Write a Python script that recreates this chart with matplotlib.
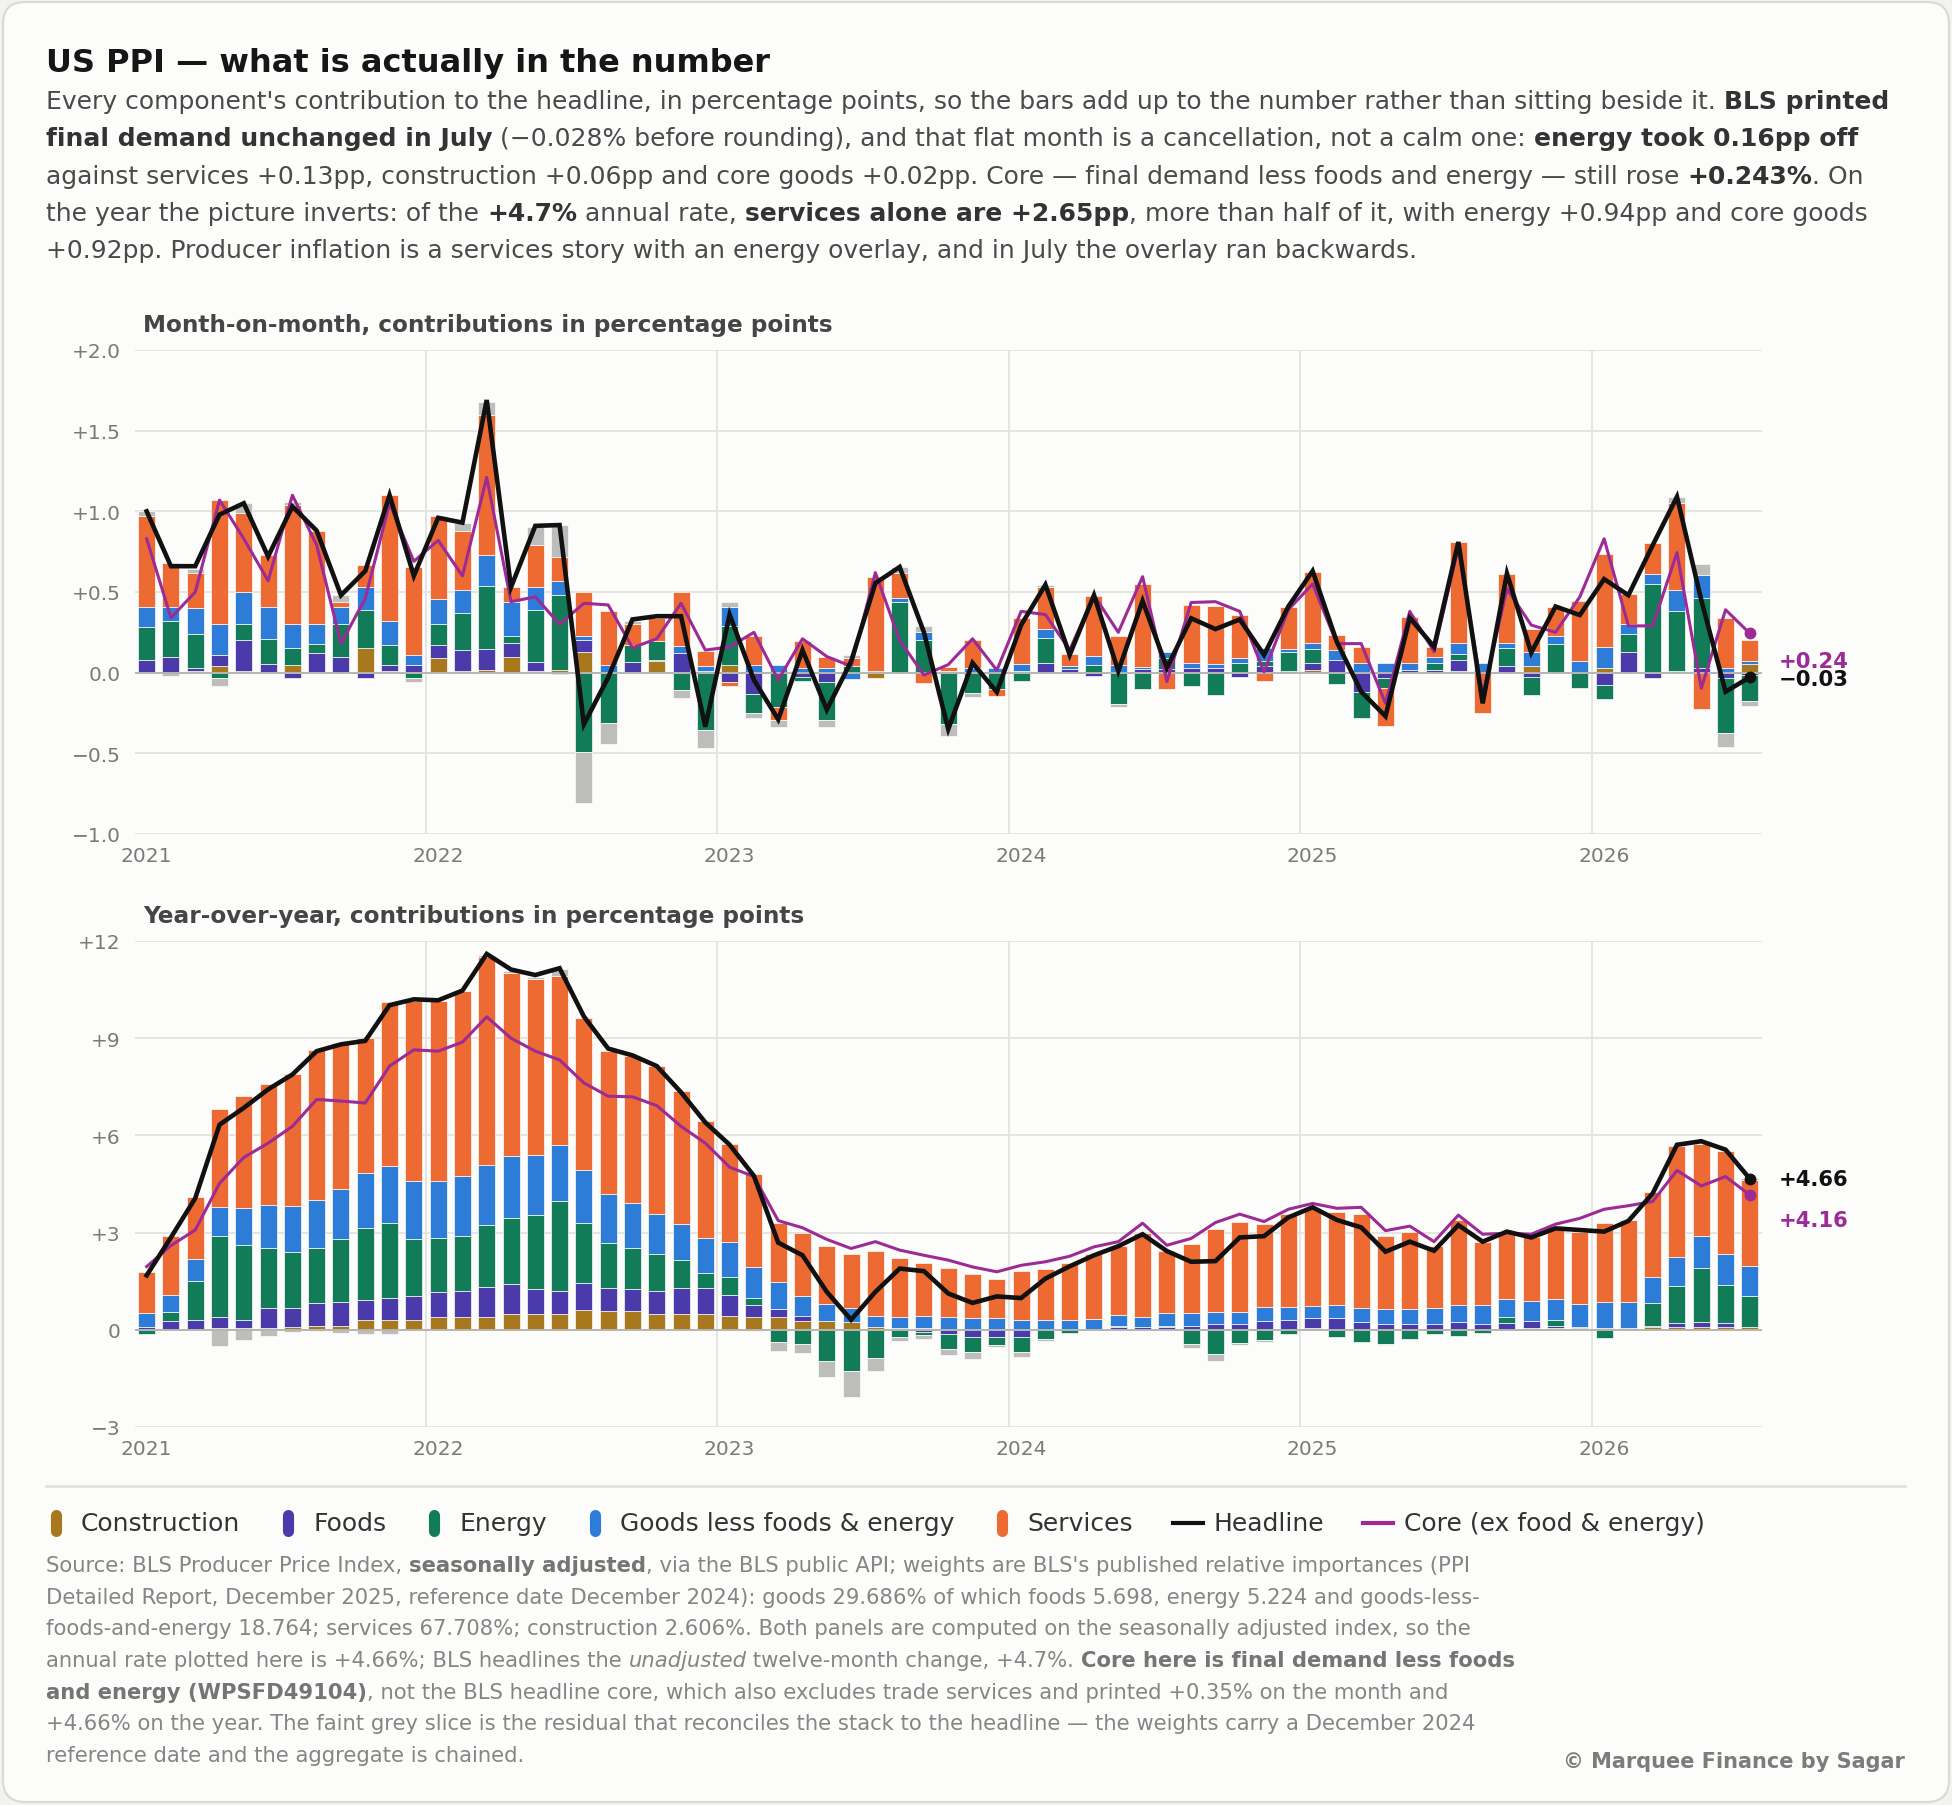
import numpy as np
import pandas as pd
import matplotlib
matplotlib.use("Agg")
import matplotlib.pyplot as plt
from matplotlib.lines import Line2D
from matplotlib.patches import FancyBboxPatch

# ---- data: Jan 2021 .. Jul 2026, contributions in percentage points ----
months = pd.period_range("2021-01", "2026-07", freq="M")

# month-on-month
mom_construction = [0.005, 0.0, 0.01, 0.04, 0.01, 0.005, 0.045, 0.005, 0.0, 0.155, 0.01, 0.005,
                    0.09, 0.01, 0.015, 0.095, 0.01, 0.015, 0.13, 0.0, 0.005, 0.07, 0.005, 0.0,
                    0.047, 0.0, 0.0, 0.0, 0.0, 0.0, -0.035, 0.0, 0.0, 0.0, 0.0, 0.0,
                    0.01, 0.0, 0.0, 0.0, 0.0, 0.0, 0.0, 0.0, 0.0, 0.0, 0.0, 0.0,
                    0.017, 0.0, 0.0, 0.0, 0.0, 0.0, 0.012, 0.0, 0.0, 0.04, 0.0, 0.0,
                    0.027, 0.0, 0.0, 0.0, 0.0, 0.0, 0.055]
mom_foods = [0.075, 0.10, 0.02, 0.07, 0.19, 0.05, -0.035, 0.115, 0.10, -0.03, 0.04, 0.04,
             0.08, 0.13, 0.13, 0.09, 0.055, -0.01, 0.07, 0.005, 0.06, 0.01, 0.115, 0.01,
             -0.055, -0.13, 0.0, -0.025, -0.055, 0.0, 0.0, 0.0, 0.0, 0.0, 0.0, 0.0,
             0.0, 0.058, 0.02, -0.02, 0.0, 0.02, 0.02, 0.027, 0.027, -0.025, 0.04, 0.012,
             0.04, 0.08, -0.118, -0.035, 0.017, 0.017, 0.065, 0.0, 0.04, -0.025, 0.0, 0.0,
             -0.076, 0.13, -0.035, 0.012, 0.027, -0.035, -0.015]
mom_energy = [0.20, 0.22, 0.21, -0.03, 0.10, 0.155, 0.105, 0.06, 0.20, 0.235, 0.12, -0.03,
              0.13, 0.23, 0.395, 0.045, 0.325, 0.465, -0.49, -0.31, 0.105, 0.115, -0.11, -0.355,
              0.24, -0.12, -0.215, -0.025, -0.24, 0.04, 0.0, 0.44, 0.20, -0.32, -0.125, -0.10,
              -0.05, 0.155, 0.0, 0.045, -0.195, -0.10, 0.07, -0.083, -0.14, 0.058, 0.03, 0.118,
              0.087, -0.07, -0.16, -0.06, 0.0, 0.04, 0.04, 0.0, 0.11, -0.115, 0.18, -0.097,
              -0.09, 0.11, 0.55, 0.37, 0.434, -0.34, -0.16]
mom_core_goods = [0.13, 0.09, 0.16, 0.19, 0.20, 0.20, 0.15, 0.12, 0.11, 0.14, 0.15, 0.065,
                  0.155, 0.14, 0.19, 0.21, 0.14, 0.09, 0.03, 0.045, -0.005, 0.0, 0.045, 0.03,
                  0.12, 0.05, 0.05, 0.03, 0.03, -0.04, 0.01, 0.025, 0.05, 0.01, 0.03, 0.03,
                  0.045, 0.058, 0.02, 0.06, 0.045, 0.017, 0.04, 0.035, 0.027, 0.03, 0.08, 0.015,
                  0.037, 0.06, 0.058, 0.058, 0.04, 0.04, 0.066, 0.06, 0.035, 0.09, 0.045, 0.072,
                  0.13, 0.06, 0.062, 0.13, 0.145, 0.03, 0.02]
mom_services = [0.56, 0.27, 0.22, 0.77, 0.49, 0.32, 0.74, 0.58, 0.03, 0.14, 0.78, 0.545,
                0.515, 0.37, 0.87, 0.09, 0.26, 0.15, 0.27, 0.33, 0.13, 0.145, 0.335, 0.095,
                -0.027, 0.18, -0.08, 0.165, 0.07, 0.05, 0.58, 0.15, -0.066, 0.025, 0.175, -0.045,
                0.285, 0.26, 0.075, 0.37, 0.185, 0.51, -0.10, 0.358, 0.36, 0.27, -0.05, 0.265,
                0.44, 0.095, 0.10, -0.235, 0.29, 0.06, 0.625, -0.25, 0.425, 0.14, 0.18, 0.375,
                0.58, 0.185, 0.19, 0.54, -0.227, 0.31, 0.13]
mom_residual = [0.03, -0.02, 0.02, -0.05, 0.06, 0.0, 0.02, 0.0, 0.04, 0.0, 0.0, -0.025,
                0.0, 0.05, 0.08, 0.0, 0.11, 0.195, -0.32, -0.13, 0.02, 0.0, -0.045, -0.115,
                0.03, -0.03, -0.04, 0.0, -0.04, 0.02, 0.0, 0.04, 0.04, -0.07, -0.025, 0.0,
                0.0, 0.01, 0.0, 0.0, -0.02, 0.0, 0.0, 0.0, 0.0, 0.0, 0.0, 0.0,
                0.0, 0.0, 0.0, 0.0, 0.0, 0.0, 0.0, 0.0, 0.0, 0.0, 0.0, 0.0,
                0.0, 0.0, 0.0, 0.037, 0.068, -0.087, -0.03]
mom_headline = [1.00, 0.66, 0.66, 0.98, 1.05, 0.72, 1.03, 0.88, 0.48, 0.63, 1.10, 0.60,
                0.96, 0.93, 1.69, 0.53, 0.91, 0.915, -0.32, -0.03, 0.33, 0.35, 0.35, -0.335,
                0.36, -0.045, -0.29, 0.14, -0.23, 0.07, 0.555, 0.655, 0.25, -0.35, 0.06, -0.12,
                0.295, 0.545, 0.11, 0.48, 0.01, 0.445, 0.03, 0.337, 0.27, 0.33, 0.11, 0.41,
                0.63, 0.19, -0.118, -0.27, 0.34, 0.16, 0.81, -0.19, 0.615, 0.124, 0.41, 0.357,
                0.58, 0.48, 0.79, 1.09, 0.45, -0.118, -0.028]
mom_core = [0.83, 0.34, 0.50, 1.07, 0.83, 0.57, 1.10, 0.79, 0.18, 0.46, 1.05, 0.69,
            0.82, 0.60, 1.21, 0.44, 0.47, 0.30, 0.43, 0.42, 0.155, 0.21, 0.43, 0.14,
            0.16, 0.25, -0.045, 0.21, 0.10, 0.04, 0.62, 0.20, -0.015, 0.05, 0.21, 0.015,
            0.38, 0.36, 0.14, 0.48, 0.25, 0.595, -0.055, 0.435, 0.44, 0.38, 0.005, 0.39,
            0.55, 0.18, 0.18, -0.19, 0.38, 0.13, 0.78, -0.14, 0.52, 0.295, 0.25, 0.47,
            0.83, 0.29, 0.29, 0.744, -0.097, 0.39, 0.243]

# year-over-year
yoy_construction = [0.0, 0.0, 0.01, 0.06, 0.05, 0.06, 0.10, 0.13, 0.13, 0.29, 0.29, 0.31,
                    0.39, 0.41, 0.41, 0.50, 0.48, 0.50, 0.60, 0.58, 0.57, 0.48, 0.48, 0.48,
                    0.42, 0.39, 0.39, 0.27, 0.27, 0.24, 0.08, 0.06, 0.06, 0.03, 0.0, 0.0,
                    0.0, 0.0, 0.0, 0.0, 0.0, 0.0, 0.0, 0.0, 0.0, 0.0, 0.0, 0.0,
                    0.06, 0.0, 0.0, 0.0, 0.0, 0.0, 0.0, 0.0, 0.0, 0.06, 0.05, 0.05,
                    0.05, 0.05, 0.08, 0.08, 0.08, 0.08, 0.10]
yoy_foods = [0.08, 0.27, 0.30, 0.35, 0.26, 0.61, 0.58, 0.71, 0.72, 0.62, 0.69, 0.73,
             0.77, 0.80, 0.92, 0.91, 0.79, 0.70, 0.85, 0.71, 0.69, 0.72, 0.82, 0.80,
             0.64, 0.38, 0.24, 0.15, 0.0, 0.0, 0.0, 0.0, -0.07, -0.12, -0.23, -0.23,
             -0.21, 0.0, 0.0, 0.0, 0.08, 0.08, 0.08, 0.13, 0.17, 0.17, 0.27, 0.29,
             0.30, 0.36, 0.24, 0.19, 0.19, 0.17, 0.24, 0.19, 0.21, 0.21, 0.07, 0.03,
             0.0, 0.0, 0.05, 0.12, 0.15, 0.12, -0.02]
yoy_energy = [-0.14, 0.28, 1.20, 2.50, 2.31, 1.86, 1.71, 1.68, 1.94, 2.24, 2.33, 1.76,
              1.66, 1.70, 1.90, 2.03, 2.27, 2.79, 1.86, 1.39, 1.27, 1.13, 0.84, 0.46,
              0.57, 0.21, -0.38, -0.45, -0.95, -1.26, -0.88, -0.23, -0.10, -0.46, -0.46, -0.23,
              -0.49, -0.28, -0.09, 0.03, 0.05, 0.0, 0.05, -0.45, -0.76, -0.41, -0.33, -0.12,
              0.0, -0.21, -0.38, -0.43, -0.28, -0.14, -0.18, -0.09, 0.19, 0.0, 0.18, 0.0,
              -0.25, 0.0, 0.69, 1.15, 1.68, 1.17, 0.94]
yoy_core_goods = [0.43, 0.52, 0.66, 0.89, 1.15, 1.32, 1.43, 1.50, 1.56, 1.70, 1.76, 1.78,
                  1.78, 1.83, 1.86, 1.91, 1.85, 1.72, 1.61, 1.50, 1.39, 1.25, 1.14, 1.08,
                  1.07, 0.96, 0.83, 0.62, 0.54, 0.43, 0.36, 0.35, 0.38, 0.36, 0.36, 0.36,
                  0.29, 0.31, 0.29, 0.31, 0.33, 0.33, 0.40, 0.40, 0.37, 0.38, 0.43, 0.41,
                  0.39, 0.41, 0.43, 0.45, 0.45, 0.50, 0.52, 0.57, 0.56, 0.62, 0.64, 0.72,
                  0.81, 0.82, 0.81, 0.90, 0.98, 0.98, 0.92]
yoy_services = [1.27, 1.83, 1.92, 3.02, 3.46, 3.73, 4.09, 4.61, 4.49, 4.16, 5.06, 5.56,
                5.55, 5.71, 6.43, 5.65, 5.43, 5.20, 4.69, 4.44, 4.53, 4.57, 4.08, 3.61,
                3.04, 2.86, 1.85, 1.95, 1.78, 1.66, 1.99, 1.82, 1.63, 1.52, 1.35, 1.20,
                1.52, 1.58, 1.78, 2.01, 2.12, 2.58, 1.89, 2.13, 2.56, 2.79, 2.56, 2.87,
                3.00, 2.87, 2.90, 2.25, 2.37, 1.91, 2.63, 1.96, 2.00, 1.98, 2.25, 2.21,
                2.43, 2.51, 2.63, 3.43, 2.86, 3.17, 2.65]
yoy_residual = [0.0, 0.0, 0.0, -0.49, -0.33, -0.20, -0.07, -0.03, -0.10, -0.12, -0.12, 0.05,
                0.0, 0.0, 0.06, 0.08, 0.06, 0.22, 0.05, 0.0, 0.0, 0.0, 0.0, 0.0,
                0.0, -0.05, -0.26, -0.27, -0.50, -0.81, -0.40, -0.12, -0.10, -0.21, -0.21, -0.08,
                -0.15, -0.07, 0.0, 0.0, 0.0, 0.0, 0.0, -0.10, -0.21, -0.07, -0.05, 0.0,
                0.0, 0.0, 0.0, -0.05, 0.0, 0.0, 0.0, 0.0, 0.0, 0.0, 0.0, 0.0,
                0.0, 0.0, 0.0, 0.0, 0.0, 0.0, 0.07]
yoy_headline = [1.68, 2.85, 4.06, 6.33, 6.85, 7.42, 7.88, 8.60, 8.81, 8.92, 10.02, 10.20,
                10.17, 10.47, 11.60, 11.12, 10.95, 11.16, 9.67, 8.68, 8.47, 8.14, 7.33, 6.40,
                5.71, 4.75, 2.69, 2.30, 1.17, 0.31, 1.17, 1.89, 1.81, 1.12, 0.83, 1.03,
                0.98, 1.58, 1.96, 2.30, 2.58, 2.95, 2.43, 2.10, 2.12, 2.85, 2.89, 3.47,
                3.78, 3.39, 3.16, 2.41, 2.72, 2.44, 3.23, 2.72, 3.03, 2.85, 3.13, 3.08,
                3.03, 3.36, 4.21, 5.71, 5.82, 5.56, 4.66]
yoy_core = [1.95, 2.60, 3.08, 4.52, 5.32, 5.76, 6.28, 7.11, 7.06, 7.00, 8.14, 8.64,
            8.60, 8.88, 9.66, 9.00, 8.60, 8.33, 7.62, 7.21, 7.19, 6.92, 6.28, 5.76,
            5.02, 4.73, 3.37, 3.15, 2.79, 2.51, 2.72, 2.46, 2.30, 2.15, 1.94, 1.79,
            1.99, 2.10, 2.27, 2.56, 2.72, 3.29, 2.61, 2.82, 3.31, 3.57, 3.34, 3.72,
            3.90, 3.75, 3.78, 3.06, 3.20, 2.72, 3.54, 2.95, 2.98, 2.95, 3.26, 3.44,
            3.72, 3.83, 3.96, 4.92, 4.44, 4.73, 4.16]

component_names = ["Construction", "Foods", "Energy", "Goods less foods & energy", "Services"]
component_colors = ["#a8781e", "#4b3aa9", "#127b58", "#2d7dd8", "#ee6a33"]
residual_color = "#bdbdbb"
headline_color = "#111111"
core_color = "#9c2b96"

# ---- layout (pixels on a 1952 x 1806 canvas) ----
W, H, DPI = 1952, 1806, 100
BG = "#fcfcfa"
GRID = "#e2e2de"

fig = plt.figure(figsize=(W / DPI, H / DPI), dpi=DPI, facecolor="#f2f2f0")
renderer = fig.canvas.get_renderer()

card = FancyBboxPatch((0.03, 0.03), W / DPI - 0.06, H / DPI - 0.06,
                      boxstyle="round,pad=0,rounding_size=0.22",
                      transform=fig.dpi_scale_trans, facecolor=BG,
                      edgecolor="#d9d9d6", linewidth=1.5, zorder=-10)
fig.add_artist(card)


def inch(px, py):
    return px / DPI, (H - py) / DPI


def text_width(s, **kw):
    t = fig.text(0, 0, "|" + s + "|", **kw)
    w = t.get_window_extent(renderer=renderer).width
    t.remove()
    t = fig.text(0, 0, "||", **kw)
    w -= t.get_window_extent(renderer=renderer).width
    t.remove()
    return w


def rich_line(px, py, runs, size, color, bold_color):
    x = px
    for s, kind in runs:
        kw = dict(fontsize=size,
                  fontweight="bold" if "b" in kind else "normal",
                  fontstyle="italic" if "i" in kind else "normal",
                  color=bold_color if "b" in kind else color)
        fig.text(*inch(x, py), s, transform=fig.dpi_scale_trans,
                 ha="left", va="baseline", **kw)
        x += text_width(s, **kw)
    return x


# ---- title block ----
fig.text(*inch(46, 72), "US PPI — what is actually in the number",
         transform=fig.dpi_scale_trans, fontsize=23.0, fontweight="bold",
         color="#161616", va="baseline")

subtitle = [
    [("Every component's contribution to the headline, in percentage points, so the bars add up to the number rather than sitting beside it. ", ""),
     ("BLS printed", "b")],
    [("final demand unchanged in July", "b"),
     (" (−0.028% before rounding), and that flat month is a cancellation, not a calm one: ", ""),
     ("energy took 0.16pp off", "b")],
    [("against services +0.13pp, construction +0.06pp and core goods +0.02pp. Core — final demand less foods and energy — still rose ", ""),
     ("+0.243%", "b"), (". On", "")],
    [("the year the picture inverts: of the ", ""), ("+4.7%", "b"), (" annual rate, ", ""),
     ("services alone are +2.65pp", "b"),
     (", more than half of it, with energy +0.94pp and core goods", "")],
    [("+0.92pp. Producer inflation is a services story with an energy overlay, and in July the overlay ran backwards.", "")],
]
for i, runs in enumerate(subtitle):
    rich_line(46, 109 + i * 37.3, runs, 18.0, "#4a4a4a", "#333333")

# ---- panels ----
x = np.array([p.year + (p.month - 0.5) / 12 for p in months])
bar_w = 0.7 / 12
ax_left, ax_right = 134.5, 1762
ax1 = fig.add_axes([ax_left / W, 1 - 835 / H, (ax_right - ax_left) / W, 484 / H])
ax2 = fig.add_axes([ax_left / W, 1 - 1428 / H, (ax_right - ax_left) / W, 486 / H])


def draw_stack(ax, parts, colors):
    pos = np.zeros(len(x))
    neg = np.zeros(len(x))
    for vals, col in zip(parts, colors):
        v = np.asarray(vals, dtype=float)
        up = v > 0
        dn = v < 0
        ax.bar(x[up], v[up], bar_w, bottom=pos[up], color=col,
               edgecolor=BG, linewidth=0.5, zorder=2)
        ax.bar(x[dn], v[dn], bar_w, bottom=neg[dn], color=col,
               edgecolor=BG, linewidth=0.5, zorder=2)
        pos[up] += v[up]
        neg[dn] += v[dn]


def style_axes(ax, ylim, yticks, ylabels):
    ax.set_facecolor("none")
    ax.set_xlim(2021, 2026 + 7 / 12)
    ax.set_ylim(*ylim)
    for sp in ax.spines.values():
        sp.set_visible(False)
    ax.set_yticks(yticks)
    ax.set_yticklabels(ylabels)
    years = list(range(2021, 2027))
    ax.set_xticks([y + 0.5 / 12 for y in years])
    ax.set_xticklabels([str(y) for y in years])
    ax.set_xticks(years, minor=True)
    ax.grid(axis="y", which="major", color=GRID, linewidth=1.3)
    ax.grid(axis="x", which="minor", color=GRID, linewidth=1.3)
    ax.grid(axis="x", which="major", visible=False)
    ax.tick_params(axis="both", which="both", length=0, labelsize=14.5,
                   labelcolor="#7a7a7a")
    ax.tick_params(axis="y", pad=10)
    ax.tick_params(axis="x", pad=9)
    ax.set_axisbelow(True)
    ax.axhline(0, color="#b5b5b2", linewidth=1.4, zorder=2.5)


def draw_panel(ax, parts, residual, headline, core):
    draw_stack(ax, list(parts) + [residual], component_colors + [residual_color])
    ax.plot(x, headline, color=headline_color, linewidth=3.3, zorder=4,
            solid_joinstyle="miter")
    ax.plot(x, core, color=core_color, linewidth=2.2, zorder=3.5)
    ax.plot(x[-1], headline[-1], "o", color=headline_color, markersize=7.5, zorder=5)
    ax.plot(x[-1], core[-1], "o", color=core_color, markersize=7.5, zorder=5)


draw_panel(ax1, [mom_construction, mom_foods, mom_energy, mom_core_goods, mom_services],
           mom_residual, mom_headline, mom_core)
style_axes(ax1, (-1.0, 2.0), [-1.0, -0.5, 0.0, 0.5, 1.0, 1.5, 2.0],
           ["−1.0", "−0.5", "0.0", "+0.5", "+1.0", "+1.5", "+2.0"])

draw_panel(ax2, [yoy_construction, yoy_foods, yoy_energy, yoy_core_goods, yoy_services],
           yoy_residual, yoy_headline, yoy_core)
style_axes(ax2, (-3, 12), [-3, 0, 3, 6, 9, 12],
           ["−3", "0", "+3", "+6", "+9", "+12"])


def end_label(ax, value, text, color, dy):
    ax.annotate(text, xy=(x[-1], value), xytext=(29, dy), textcoords="offset pixels",
                ha="left", va="center", fontsize=15.2, fontweight="bold", color=color,
                annotation_clip=False)


end_label(ax1, mom_core[-1], "+0.24", core_color, -28)
end_label(ax1, mom_headline[-1], "−0.03", headline_color, -2)
end_label(ax2, yoy_headline[-1], "+4.66", headline_color, 0)
end_label(ax2, yoy_core[-1], "+4.16", core_color, -25)

fig.text(*inch(143, 332), "Month-on-month, contributions in percentage points",
         transform=fig.dpi_scale_trans, fontsize=16.7, fontweight="bold",
         color="#454545", va="baseline")
fig.text(*inch(143, 923), "Year-over-year, contributions in percentage points",
         transform=fig.dpi_scale_trans, fontsize=16.7, fontweight="bold",
         color="#454545", va="baseline")

# ---- legend ----
fig.add_artist(Line2D([46 / DPI, 1905 / DPI], [(H - 1487) / DPI] * 2,
                      transform=fig.dpi_scale_trans, color=GRID, linewidth=2))
leg_y = 1524
cursor = 50
leg_size = 18
for name, col in zip(component_names, component_colors):
    xm = cursor + 6
    fig.add_artist(Line2D([xm / DPI] * 2, [(H - leg_y - 8) / DPI, (H - leg_y + 8) / DPI],
                          transform=fig.dpi_scale_trans, color=col, linewidth=8,
                          solid_capstyle="round"))
    fig.text(*inch(cursor + 31, leg_y), name, transform=fig.dpi_scale_trans,
             fontsize=leg_size, color="#333333", va="center")
    cursor = cursor + 31 + text_width(name, fontsize=leg_size) + 42
for name, col in [("Headline", headline_color), ("Core (ex food & energy)", core_color)]:
    x0 = cursor - 2
    fig.add_artist(Line2D([x0 / DPI, (x0 + 30) / DPI], [(H - leg_y) / DPI] * 2,
                          transform=fig.dpi_scale_trans, color=col, linewidth=3))
    fig.text(*inch(x0 + 41, leg_y), name, transform=fig.dpi_scale_trans,
             fontsize=leg_size, color="#333333", va="center")
    cursor = x0 + 41 + text_width(name, fontsize=leg_size) + 40

# ---- footer ----
footer = [
    [("Source: BLS Producer Price Index, ", ""), ("seasonally adjusted", "b"),
     (", via the BLS public API; weights are BLS's published relative importances (PPI", "")],
    [("Detailed Report, December 2025, reference date December 2024): goods 29.686% of which foods 5.698, energy 5.224 and goods-less-", "")],
    [("foods-and-energy 18.764; services 67.708%; construction 2.606%. Both panels are computed on the seasonally adjusted index, so the", "")],
    [("annual rate plotted here is +4.66%; BLS headlines the ", ""), ("unadjusted", "i"),
     (" twelve-month change, +4.7%. ", ""), ("Core here is final demand less foods", "b")],
    [("and energy (WPSFD49104)", "b"),
     (", not the BLS headline core, which also excludes trade services and printed +0.35% on the month and", "")],
    [("+4.66% on the year. The faint grey slice is the residual that reconciles the stack to the headline — the weights carry a December 2024", "")],
    [("reference date and the aggregate is chained.", "")],
]
for i, runs in enumerate(footer):
    rich_line(46, 1572 + i * 31.7, runs, 15.2, "#858585", "#757575")

fig.text(*inch(1905, 1768), "© Marquee Finance by Sagar", transform=fig.dpi_scale_trans,
         fontsize=15, fontweight="bold", color="#7c7c7c", ha="right", va="baseline")

fig.savefig("out.png", dpi=DPI, facecolor=fig.get_facecolor())
